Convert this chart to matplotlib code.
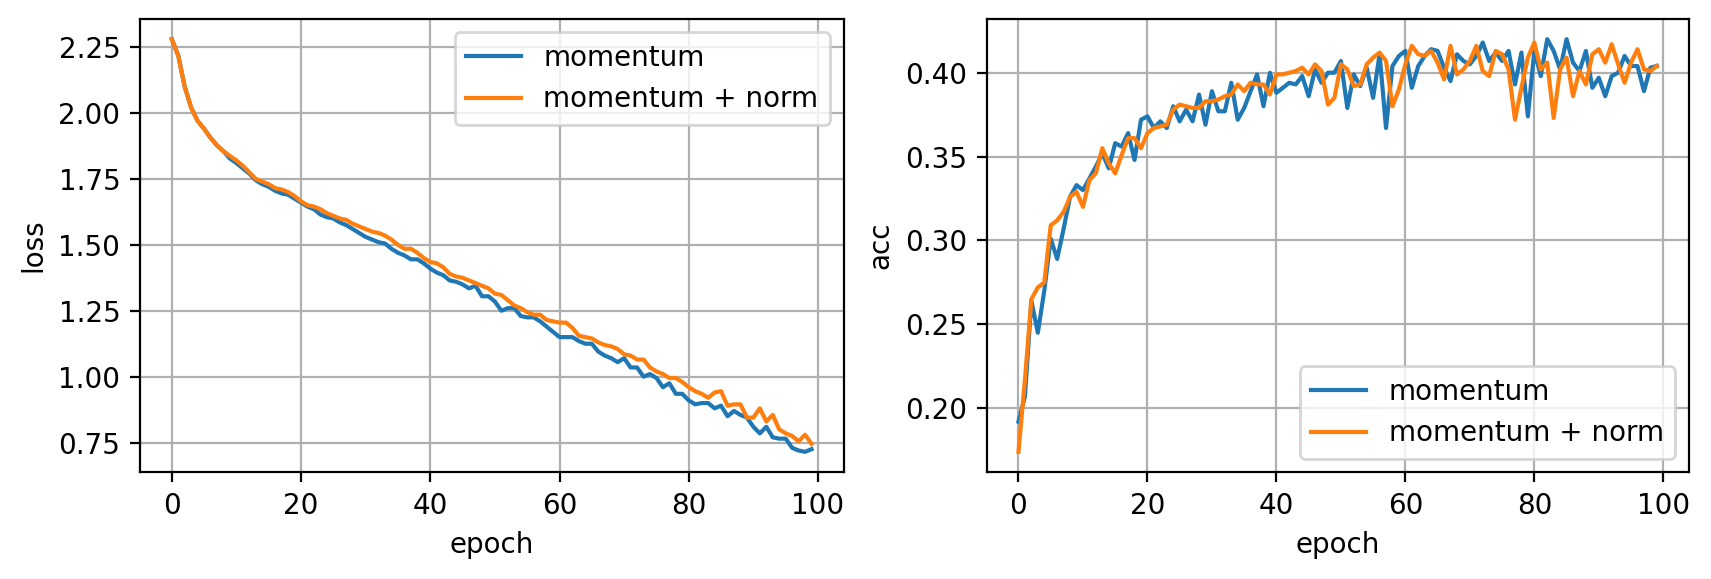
import numpy as np
import matplotlib
matplotlib.use("Agg")
import matplotlib.pyplot as plt

epochs = np.arange(100)

# loss values
loss_momentum = [
    2.28, 2.218, 2.10, 2.02, 1.97, 1.94, 1.906, 1.877, 1.855, 1.827,
    1.81, 1.79, 1.77, 1.745, 1.73, 1.72, 1.705, 1.695, 1.69, 1.675,
    1.66, 1.645, 1.635, 1.615, 1.605, 1.60, 1.585, 1.575, 1.56, 1.545,
    1.53, 1.52, 1.51, 1.505, 1.485, 1.47, 1.46, 1.445, 1.445, 1.43,
    1.41, 1.395, 1.385, 1.365, 1.36, 1.35, 1.335, 1.345, 1.305, 1.305,
    1.285, 1.25, 1.26, 1.26, 1.23, 1.225, 1.225, 1.21, 1.19, 1.17,
    1.15, 1.15, 1.15, 1.135, 1.125, 1.125, 1.095, 1.08, 1.07, 1.055,
    1.07, 1.035, 1.035, 1.00, 1.01, 0.995, 0.96, 0.975, 0.935, 0.935,
    0.91, 0.895, 0.90, 0.90, 0.88, 0.89, 0.85, 0.87, 0.855, 0.845,
    0.81, 0.785, 0.81, 0.77, 0.765, 0.765, 0.73, 0.72, 0.715, 0.725,
]
loss_norm = [
    2.28, 2.218, 2.10, 2.02, 1.97, 1.94, 1.906, 1.877, 1.855, 1.837,
    1.82, 1.80, 1.775, 1.75, 1.74, 1.73, 1.715, 1.71, 1.70, 1.685,
    1.665, 1.65, 1.645, 1.635, 1.62, 1.61, 1.60, 1.595, 1.58, 1.57,
    1.56, 1.55, 1.545, 1.535, 1.52, 1.50, 1.485, 1.485, 1.47, 1.45,
    1.435, 1.43, 1.415, 1.39, 1.38, 1.375, 1.365, 1.355, 1.345, 1.335,
    1.315, 1.31, 1.29, 1.27, 1.26, 1.245, 1.235, 1.235, 1.215, 1.21,
    1.205, 1.205, 1.185, 1.155, 1.15, 1.145, 1.13, 1.12, 1.115, 1.105,
    1.085, 1.08, 1.065, 1.065, 1.035, 1.02, 1.01, 0.995, 0.995, 0.98,
    0.96, 0.945, 0.935, 0.92, 0.94, 0.945, 0.89, 0.895, 0.895, 0.845,
    0.845, 0.88, 0.83, 0.855, 0.80, 0.785, 0.775, 0.755, 0.78, 0.745,
]

# accuracy values
acc_momentum = [
    0.192, 0.207, 0.264, 0.245, 0.27, 0.301, 0.289, 0.307, 0.326, 0.333,
    0.33, 0.337, 0.344, 0.352, 0.343, 0.358, 0.356, 0.364, 0.348, 0.372,
    0.374, 0.367, 0.371, 0.367, 0.38, 0.371, 0.378, 0.371, 0.387, 0.369,
    0.389, 0.377, 0.377, 0.394, 0.372, 0.379, 0.389, 0.399, 0.38, 0.40,
    0.388, 0.391, 0.394, 0.393, 0.398, 0.386, 0.402, 0.394, 0.40, 0.40,
    0.407, 0.379, 0.399, 0.392, 0.403, 0.385, 0.411, 0.367, 0.404, 0.41,
    0.413, 0.391, 0.404, 0.41, 0.414, 0.413, 0.403, 0.395, 0.411, 0.407,
    0.405, 0.41, 0.418, 0.407, 0.412, 0.407, 0.413, 0.393, 0.412, 0.374,
    0.413, 0.398, 0.42, 0.413, 0.402, 0.42, 0.406, 0.401, 0.413, 0.391,
    0.397, 0.386, 0.398, 0.40, 0.41, 0.404, 0.404, 0.389, 0.403, 0.404,
]
acc_norm = [
    0.174, 0.217, 0.265, 0.272, 0.275, 0.309, 0.312, 0.317, 0.326, 0.329,
    0.32, 0.336, 0.34, 0.355, 0.346, 0.34, 0.351, 0.361, 0.361, 0.355,
    0.364, 0.367, 0.368, 0.369, 0.378, 0.381, 0.38, 0.379, 0.379, 0.383,
    0.383, 0.384, 0.386, 0.387, 0.393, 0.389, 0.394, 0.393, 0.393, 0.387,
    0.399, 0.399, 0.40, 0.401, 0.403, 0.399, 0.405, 0.401, 0.381, 0.385,
    0.405, 0.402, 0.392, 0.393, 0.405, 0.409, 0.412, 0.407, 0.38, 0.39,
    0.405, 0.416, 0.411, 0.41, 0.413, 0.406, 0.396, 0.416, 0.399, 0.402,
    0.407, 0.416, 0.401, 0.398, 0.413, 0.411, 0.402, 0.372, 0.391, 0.409,
    0.418, 0.402, 0.406, 0.373, 0.402, 0.409, 0.386, 0.401, 0.393, 0.411,
    0.414, 0.406, 0.417, 0.405, 0.394, 0.406, 0.414, 0.402, 0.401, 0.404,
]

fig = plt.figure(figsize=(8.555, 2.895), dpi=200)
ax1 = fig.add_axes([0.0817, 0.184, 0.493 - 0.0817, 0.968 - 0.184])
ax2 = fig.add_axes([0.5766, 0.184, 0.987 - 0.5766, 0.968 - 0.184])

ax1.plot(epochs, loss_momentum, label="momentum")
ax1.plot(epochs, loss_norm, label="momentum + norm")
ax1.set_xlabel("epoch")
ax1.set_ylabel("loss")
ax1.grid(True)
ax1.legend(loc="upper right")

ax2.plot(epochs, acc_momentum, label="momentum")
ax2.plot(epochs, acc_norm, label="momentum + norm")
ax2.set_xlabel("epoch")
ax2.set_ylabel("acc")
ax2.grid(True)
ax2.legend(loc="lower right")

fig.savefig("out.png", dpi=200)
